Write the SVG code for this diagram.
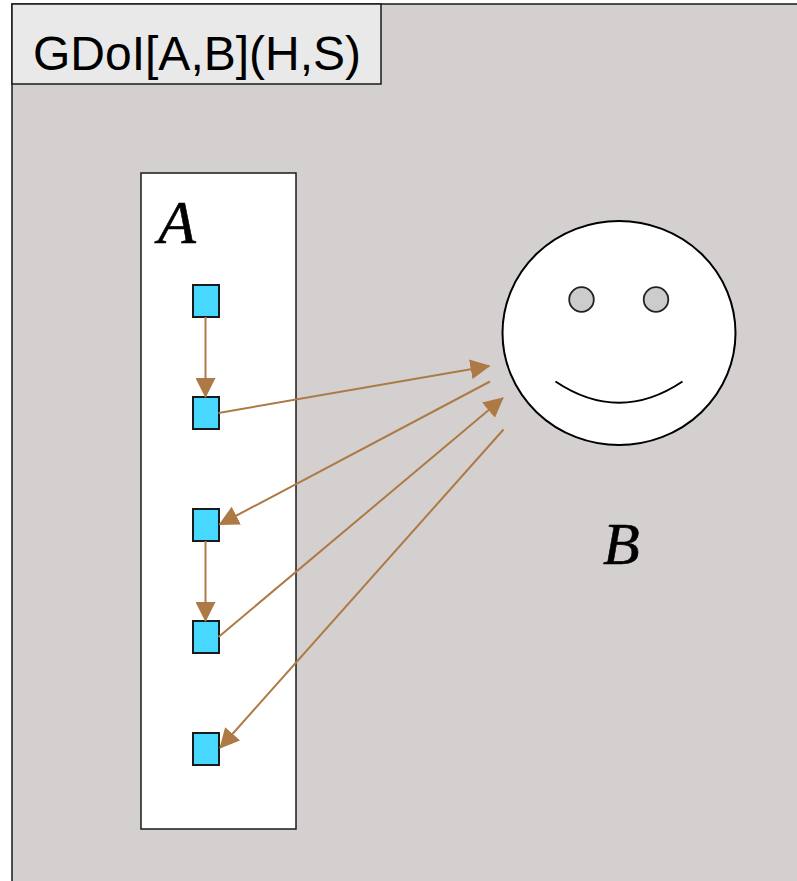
<svg xmlns="http://www.w3.org/2000/svg" width="797" height="881" viewBox="0 0 797 881">
<style>
.frame{fill:#d4d0cf;stroke:#1a1a1a;stroke-width:1.5}
.title{fill:#e9e9e9;stroke:#1a1a1a;stroke-width:1.5}
.cont{fill:#ffffff;stroke:#1a1a1a;stroke-width:1.5}
.sq{fill:#48d7ff;stroke:#1a1a1a;stroke-width:2}
.face{fill:#ffffff;stroke:#000;stroke-width:2}
.eye{fill:#cccccc;stroke:#222;stroke-width:1.8}
.arr{fill:none;stroke:#ad7a46;stroke-width:2}
.lbl{font-family:"Liberation Serif","Times New Roman",serif;font-style:italic;fill:#000;stroke:#000;stroke-width:0.6}
</style>
<defs>
<marker id="ah" markerUnits="userSpaceOnUse" markerWidth="20" markerHeight="20" viewBox="0 0 20 20" refX="19" refY="10" orient="auto">
<path d="M0,0 L20,10 L0,20 Z" fill="#ad7a46"/>
</marker>
</defs>
<g id="frame">
<rect class="frame" x="12" y="4" width="800" height="900"/>
<rect class="title" x="12" y="4" width="369" height="80"/>
<text x="33" y="70" font-family="Liberation Sans,Arial,sans-serif" font-size="48" fill="#000">GDoI[A,B](H,S)</text>
</g>
<g id="A">
<rect class="cont" x="141" y="173" width="155" height="656"/>
<text class="lbl" x="158" y="243" font-size="62">A</text>
</g>
<g id="a1"><rect class="sq" x="193" y="285" width="26" height="32"/></g>
<g id="a2"><rect class="sq" x="193" y="397" width="26" height="32"/></g>
<g id="a3"><rect class="sq" x="193" y="509" width="26" height="32"/></g>
<g id="a4"><rect class="sq" x="193" y="621" width="26" height="32"/></g>
<g id="a5"><rect class="sq" x="193" y="733" width="26" height="32"/></g>
<g id="B">
<ellipse class="face" cx="619" cy="333" rx="116.5" ry="112"/>
<circle class="eye" cx="581.5" cy="299.5" r="12.3"/>
<circle class="eye" cx="656" cy="299.5" r="12.3"/>
<path d="M555.5,381.5 Q619,424 682.5,381.5" fill="none" stroke="#000" stroke-width="2"/>
<text class="lbl" x="603" y="564" font-size="60">B</text>
</g>
<g id="connectors">
<line class="arr" x1="205.5" y1="317" x2="205.5" y2="397" marker-end="url(#ah)"/>
<line class="arr" x1="218.5" y1="413" x2="489.5" y2="366" marker-end="url(#ah)"/>
<line class="arr" x1="490" y1="381.5" x2="219.5" y2="524.5" marker-end="url(#ah)"/>
<line class="arr" x1="218.5" y1="637" x2="503" y2="398" marker-end="url(#ah)"/>
<line class="arr" x1="503.5" y1="429.5" x2="220" y2="748" marker-end="url(#ah)"/>
<line class="arr" x1="205.5" y1="541" x2="205.5" y2="621" marker-end="url(#ah)"/>
</g>
</svg>
